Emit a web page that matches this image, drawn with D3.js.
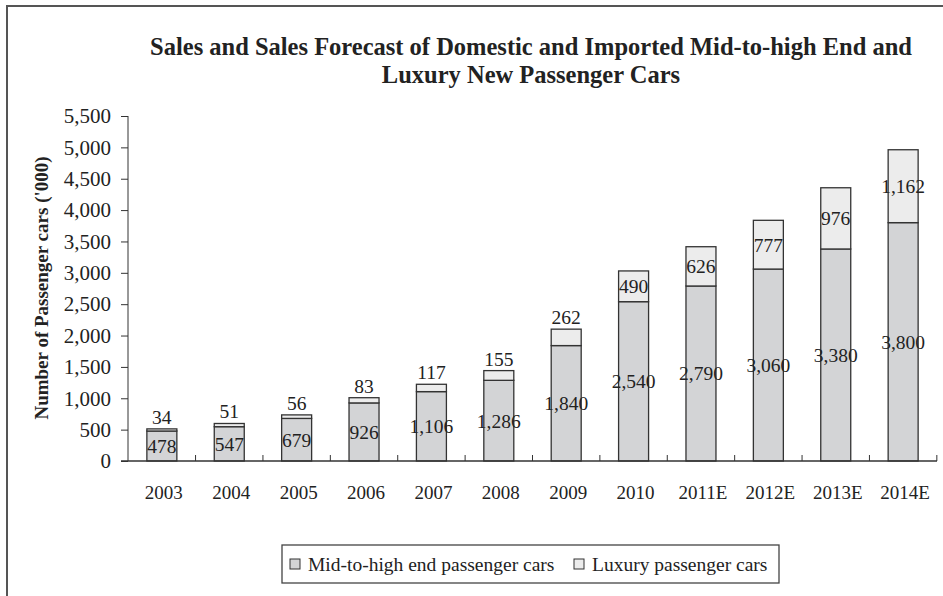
<!DOCTYPE html>
<meta charset="utf-8">
<head>
  <title>passenger cars</title>
</head>
<style>
body { margin: 0; background: #fff; }
svg text { font-family: "Liberation Serif", "Times New Roman", serif; fill: #222; }
</style>
<body>
<svg id="chart" width="943" height="596"></svg>
<script src="https://cdnjs.cloudflare.com/ajax/libs/d3/7.8.5/d3.min.js"></script>
<script>
// values ('000 cars)
var years = ["2003","2004","2005","2006","2007","2008","2009","2010","2011E","2012E","2013E","2014E"];
var midHigh = [478,547,679,926,1106,1286,1840,2540,2790,3060,3380,3800];
var luxury = [34,51,56,83,117,155,262,490,626,777,976,1162];
var seriesNames = ["Mid-to-high end passenger cars", "Luxury passenger cars"];
var seriesColors = ["#d3d4d6", "#ececec"];
var yTicks = d3.range(0, 5501, 500);

var svg = d3.select("#chart");

// frame around the chart (only top and left visible)
svg.append("path")
  .attr("d", "M7,596 V6 H943")
  .attr("fill", "none")
  .attr("stroke", "#555")
  .attr("stroke-width", 2);

var plotLeft = 128, plotRight = 937, plotTop = 116, plotBottom = 461;

var x = d3.scaleBand().domain(years).range([plotLeft, plotRight]).paddingInner(0.555).paddingOuter(0.28);
var y = d3.scaleLinear().domain([0, 5500]).range([plotBottom, plotTop]);

// title
svg.append("text")
  .attr("x", 531).attr("y", 55)
  .attr("text-anchor", "middle")
  .style("font-weight", "bold").style("font-size", "24.5px")
  .text("Sales and Sales Forecast of Domestic and Imported Mid-to-high End and");
svg.append("text")
  .attr("x", 531).attr("y", 83)
  .attr("text-anchor", "middle")
  .style("font-weight", "bold").style("font-size", "24.5px")
  .text("Luxury New Passenger Cars");

// y axis label
svg.append("text")
  .attr("transform", "translate(48," + 288 + ") rotate(-90)")
  .attr("text-anchor", "middle")
  .style("font-weight", "bold").style("font-size", "19px")
  .text("Number of Passenger cars ('000)");

// stacked data
var rows = years.map(function(d, i) { return {year: d, mid: midHigh[i], lux: luxury[i]}; });
var stack = d3.stack().keys(["mid", "lux"])(rows);

var layers = svg.selectAll(".layer")
  .data(stack)
  .enter().append("g")
  .attr("class", "layer")
  .attr("fill", function(d, i) { return seriesColors[i]; });

layers.selectAll("rect")
  .data(function(d) { return d; })
  .enter().append("rect")
  .attr("x", function(d) { return x(d.data.year); })
  .attr("width", x.bandwidth())
  .attr("y", function(d) { return y(d[1]); })
  .attr("height", function(d) { return y(d[0]) - y(d[1]); })
  .attr("stroke", "#333")
  .attr("stroke-width", 1.3);

// value labels
layers.each(function(layer, li) {
  d3.select(this).selectAll("text")
    .data(layer)
    .enter().append("text")
    .attr("x", function(d) { return x(d.data.year) + x.bandwidth() / 2; })
    .attr("y", function(d) {
      var h = y(d[0]) - y(d[1]);
      if (li == 1 && h < 22) return y(d[1]) - 5;
      return (y(d[0]) + y(d[1])) / 2 + 7;
    })
    .attr("text-anchor", "middle")
    .style("font-size", "19.5px")
    .text(function(d) { return d3.format(",")(d[1] - d[0]); });
});

// y axis
var yAxis = svg.append("g")
  .attr("transform", "translate(" + plotLeft + ",0)")
  .call(d3.axisLeft(y).tickValues(yTicks).tickSize(7).tickPadding(10).tickFormat(d3.format(",")));
yAxis.selectAll("text").style("font-size", "21px").style("font-family", "Liberation Serif, serif").attr("fill", "#222");
yAxis.selectAll("line,path").attr("stroke", "#333");
yAxis.select(".domain").attr("d", "M0," + plotTop + "V" + plotBottom);

// x axis, ticks between the categories pointing up
var xAxis = svg.append("g").attr("transform", "translate(0," + plotBottom + ")");
xAxis.append("line").attr("x1", plotLeft - 7).attr("x2", plotRight).attr("stroke", "#333").attr("stroke-width", 1.3);
var step = x.step();
xAxis.selectAll(".sep")
  .data(years)
  .enter().append("line")
  .attr("x1", function(d) { return x(d) + x.bandwidth() / 2 + step / 2; })
  .attr("x2", function(d) { return x(d) + x.bandwidth() / 2 + step / 2; })
  .attr("y1", 0).attr("y2", -6)
  .attr("stroke", "#333");
xAxis.selectAll(".cat")
  .data(years)
  .enter().append("text")
  .attr("x", function(d) { return x(d) + x.bandwidth() / 2 + 2; })
  .attr("y", 38)
  .attr("text-anchor", "middle")
  .style("font-size", "19px")
  .text(function(d) { return d; });

// legend
var legend = svg.append("g");
legend.append("rect")
  .attr("x", 282).attr("y", 545).attr("width", 497).attr("height", 38)
  .attr("fill", "#fff").attr("stroke", "#444").attr("stroke-width", 1.3);
var legX = [290, 574];
seriesNames.forEach(function(name, i) {
  legend.append("rect")
    .attr("x", legX[i]).attr("y", 559).attr("width", 10).attr("height", 10)
    .attr("fill", seriesColors[i]).attr("stroke", "#333");
  legend.append("text")
    .attr("x", legX[i] + 18).attr("y", 571)
    .style("font-size", "19.5px")
    .text(name);
});
</script>
</body>
</html>
